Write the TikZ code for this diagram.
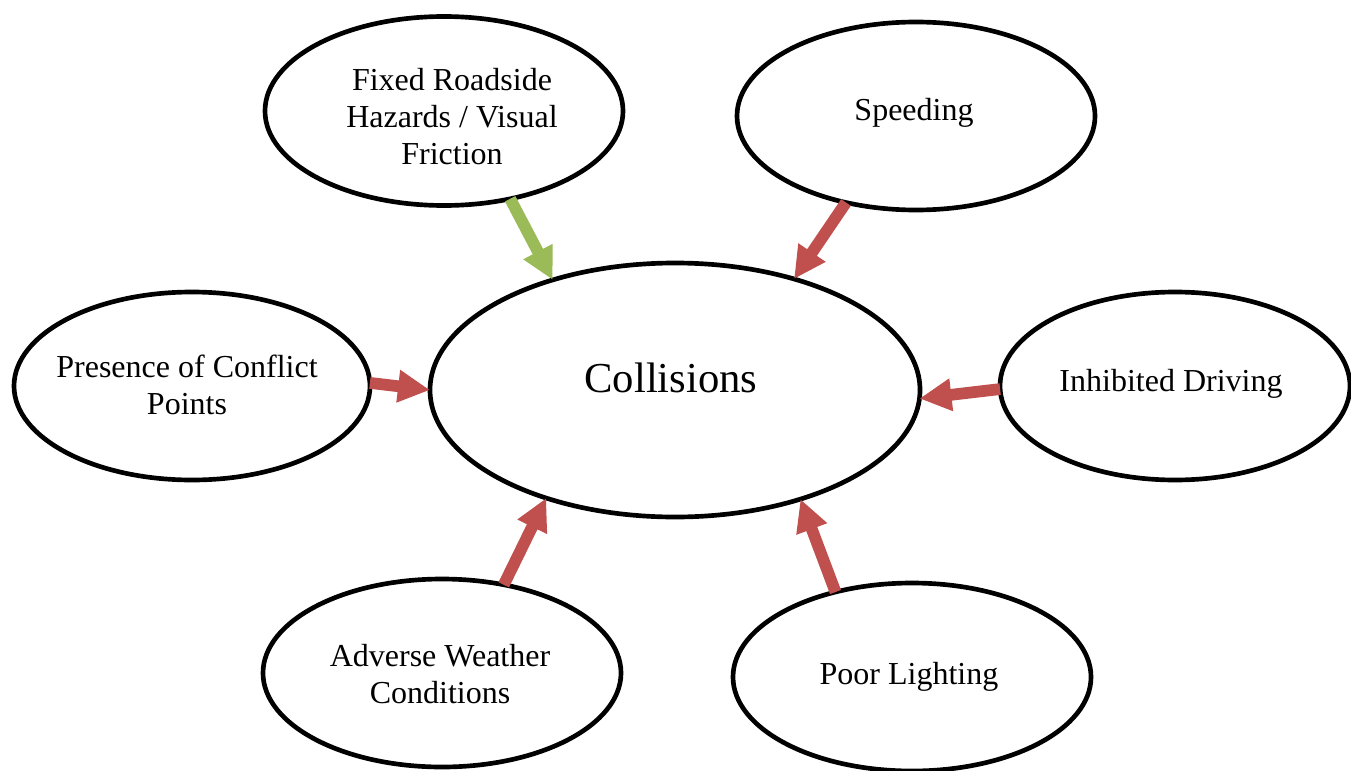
\documentclass[tikz,border=0pt]{standalone}
\usepackage{fontspec}
\setmainfont{Liberation Serif}
\usetikzlibrary{shapes.geometric,arrows.meta}
\definecolor{arrred}{HTML}{C0504D}
\definecolor{arrgreen}{HTML}{9BBB59}
\tikzset{
  bubble/.style={ellipse,draw=black,line width=3.5pt,inner sep=0pt,outer sep=0pt},
  label text/.style={align=center,font=\fontsize{24}{27.75}\selectfont,inner sep=0pt},
  conn/.style={line width=8.8pt,-{Triangle[width=23pt,length=24pt]}},
  redconn/.style={conn,draw=arrred,fill=arrred},
  greenconn/.style={conn,draw=arrgreen,fill=arrgreen},
}
\begin{document}
\begin{tikzpicture}[x=0.75pt,y=-0.75pt]
\useasboundingbox (0,0) rectangle (1351,770);
\node[bubble,minimum width=490*0.75pt,minimum height=254*0.75pt] (coll) at (675,390) {};
\node[font=\fontsize{32}{36}\selectfont] (colltext) at (671,378) {Collisions};
\node[bubble,minimum width=358*0.75pt,minimum height=189*0.75pt] (fixed) at (444,111) {};
\node[label text] (fixedtext) at (452,117) {Fixed Roadside\\Hazards / Visual\\Friction};
\node[bubble,minimum width=358*0.75pt,minimum height=188*0.75pt] (speed) at (916,116) {};
\node[label text] (speedtext) at (914,113) {Speeding};
\node[bubble,minimum width=356*0.75pt,minimum height=188*0.75pt] (conflict) at (192,386) {};
\node[label text] (conflicttext) at (187,385) {Presence of Conflict\\Points};
\node[bubble,minimum width=350*0.75pt,minimum height=188*0.75pt] (inhib) at (1175,386) {};
\node[label text] (inhibtext) at (1171,384) {Inhibited Driving};
\node[bubble,minimum width=358*0.75pt,minimum height=188*0.75pt] (weather) at (442,673) {};
\node[label text] (weathertext) at (440,674) {Adverse Weather\\Conditions};
\node[bubble,minimum width=358*0.75pt,minimum height=188*0.75pt] (light) at (912,677) {};
\node[label text] (lighttext) at (909,677) {Poor Lighting};
\draw[greenconn] (fixed.-53.4) -- (coll.138.1);
\draw[redconn] (speed.-129) -- (coll.43.6);
\draw[redconn] (conflict.1.3) -- (coll.180);
\draw[redconn] (inhib.181.3) -- (coll.-2.1);
\draw[redconn] (weather.55.9) -- (coll.-140.2);
\draw[redconn] (light.132.1) -- (coll.-41.4);
\end{tikzpicture}
\end{document}
